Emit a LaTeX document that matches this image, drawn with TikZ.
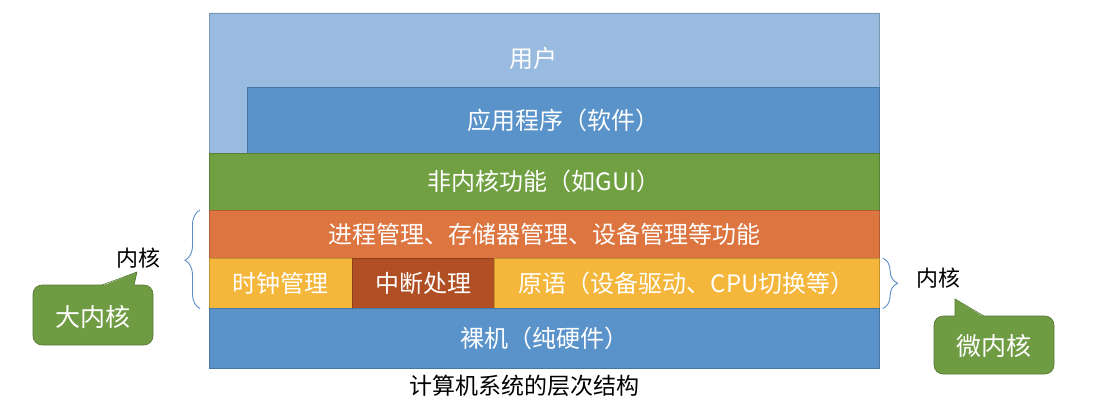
\documentclass[tikz,border=0pt]{standalone}
\usepackage{fontspec}
\setmainfont{Noto Sans CJK SC}
\usepackage{tikz}
\usetikzlibrary{decorations.pathreplacing}
\definecolor{userblue}{HTML}{9ABBE0}
\definecolor{appblue}{HTML}{5A93CA}
\definecolor{guigreen}{HTML}{71A043}
\definecolor{procorange}{HTML}{DC7540}
\definecolor{clkyellow}{HTML}{F4B63B}
\definecolor{intbrown}{HTML}{B04F23}
\definecolor{tipgreen}{HTML}{6F9C43}
\definecolor{bracecol}{HTML}{5B8FC8}

\tikzset{
  layer/.style={anchor=north west, inner sep=0pt, text=white,
                font=\fontsize{24}{26}\selectfont, draw=#1!80!black, line width=0.6pt},
  layer/.default=gray,
  bracekern/.style={decorate, draw=bracecol, line width=0.9pt},
  kernlabel/.style={font=\fontsize{22}{24}\selectfont, text=black},
  tiptext/.style={font=\fontsize{25}{27}\selectfont, text=white}
}

\begin{document}
\begin{tikzpicture}[x=1pt, y=-1pt]
    \useasboundingbox (0,0) rectangle (1105,412);

    % ── User layer (L shape) ─────────────────────────────────────────────────
    \filldraw[fill=userblue, draw=userblue!80!black, line width=0.6pt]
        (209,13) -- (879,13) -- (879,87) -- (247,87) -- (247,153) -- (209,153) -- cycle;
    \node[font=\fontsize{24}{26}\selectfont, text=white] (user) at (533,58) {用户};

    % ── Application layer ────────────────────────────────────────────────────
    \node[layer=appblue, fill=appblue, minimum width=632, minimum height=66]
        (app) at (247,87) {应用程序（软件）};

    % ── Non-kernel functions ─────────────────────────────────────────────────
    \node[layer=guigreen, fill=guigreen, minimum width=670, minimum height=57]
        (gui) at (209,153) {非内核功能（如GUI）};

    % ── Kernel: management functions ─────────────────────────────────────────
    \node[layer=procorange, fill=procorange, minimum width=670, minimum height=48]
        (proc) at (209,210) {进程管理、存储器管理、设备管理等功能};

    % ── Kernel: bottom row ───────────────────────────────────────────────────
    \node[layer=clkyellow, fill=clkyellow, minimum width=143, minimum height=50]
        (clock) at (209,258) {时钟管理};
    \node[layer=intbrown, fill=intbrown, minimum width=142, minimum height=50]
        (intr) at (352,258) {中断处理};
    \node[layer=clkyellow, fill=clkyellow, minimum width=385, minimum height=50]
        (prim) at (494,258) {原语（设备驱动、CPU切换等）};

    % ── Bare machine ─────────────────────────────────────────────────────────
    \node[layer=appblue, fill=appblue, minimum width=670, minimum height=60]
        (hw) at (209,308) {裸机（纯硬件）};

    % ── Caption ──────────────────────────────────────────────────────────────
    \node[font=\fontsize{23}{25}\selectfont] (caption) at (524,386) {计算机系统的层次结构};

    % ── Left brace: big kernel ───────────────────────────────────────────────
    \draw[bracekern, decoration={brace, amplitude=15pt, aspect=0.49}]
        ([xshift=-9pt]clock.south west) -- ([xshift=-9pt]proc.north west);
    \node[kernlabel] (bigk) at (138,258) {内核};

    % ── Right brace: micro kernel ────────────────────────────────────────────
    \draw[bracekern, decoration={brace, amplitude=15pt}]
        ([xshift=3pt]prim.north east) -- ([xshift=3pt]prim.south east);
    \node[kernlabel] (microk) at (938,278) {内核};

    % ── Callout: 大内核 ──────────────────────────────────────────────────────
    \filldraw[fill=tipgreen, draw=tipgreen!75!black, line width=0.6pt, rounded corners=9pt]
        (33,285) rectangle (153,345);
    \fill[tipgreen] (102,286) -- (137,272) -- (134,286) -- cycle;
    \draw[tipgreen!75!black, line width=0.6pt] (102,285) -- (137,272) -- (134,285);
    \node[tiptext] (bigtip) at (93,317) {大内核};

    % ── Callout: 微内核 ──────────────────────────────────────────────────────
    \filldraw[fill=tipgreen, draw=tipgreen!75!black, line width=0.6pt, rounded corners=9pt]
        (934,316) rectangle (1054,374);
    \fill[tipgreen] (955,317) -- (955,299) -- (984,317) -- cycle;
    \draw[tipgreen!75!black, line width=0.6pt] (955,316) -- (955,299) -- (984,316);
    \node[tiptext] (microtip) at (994,346) {微内核};

\end{tikzpicture}
\end{document}
